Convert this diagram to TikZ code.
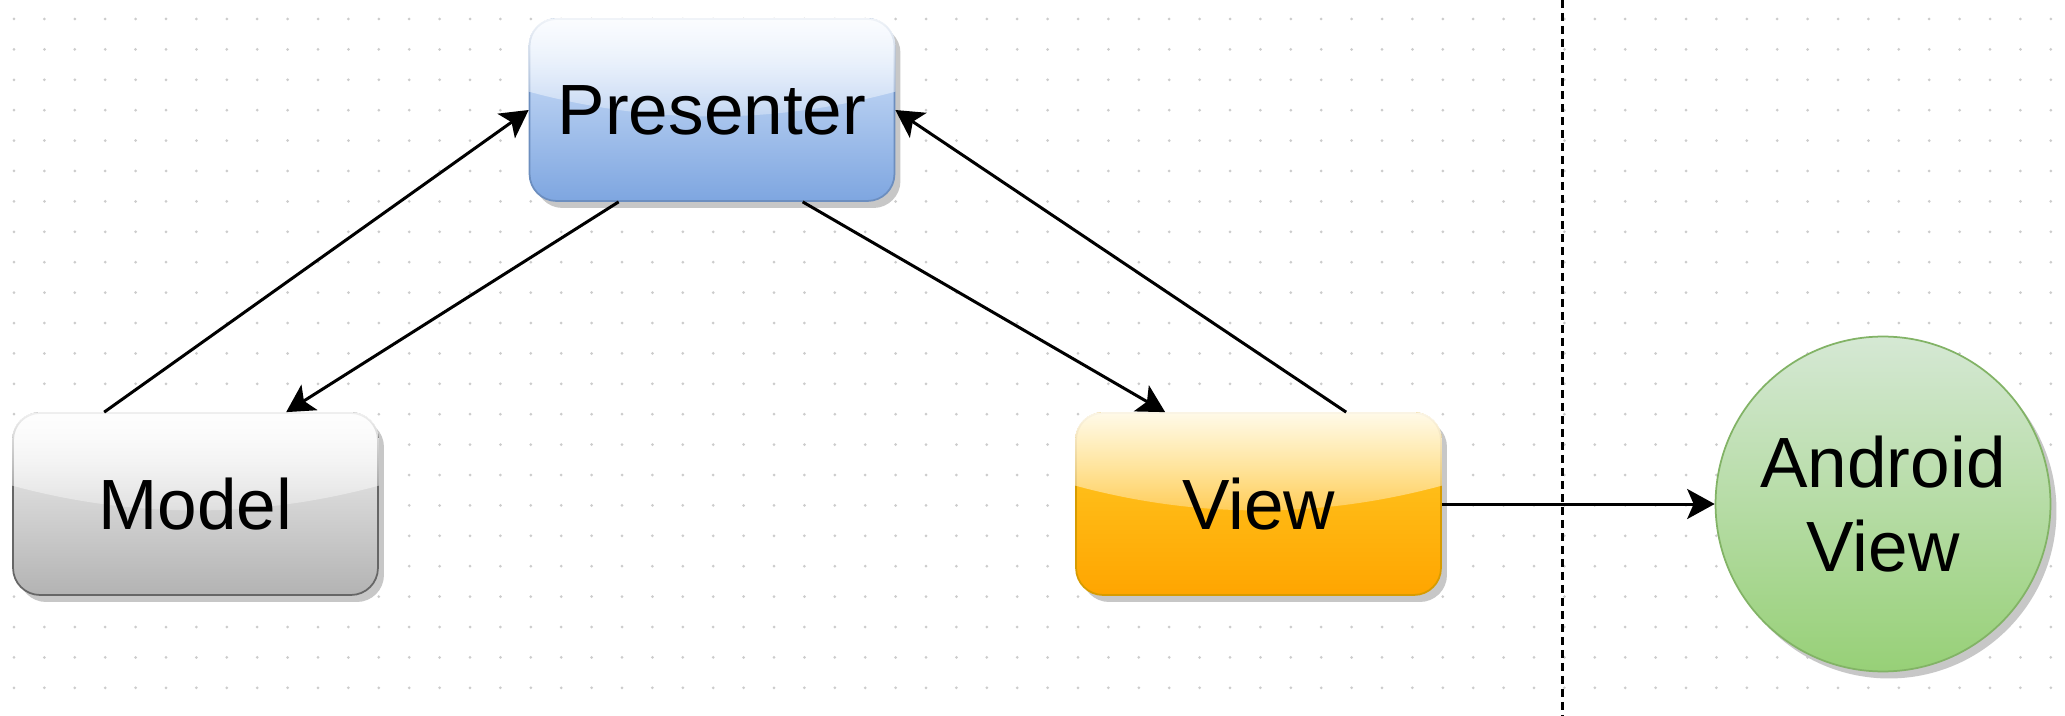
\documentclass[tikz,border=0pt]{standalone}
\usepackage{fontspec}
\setmainfont{Liberation Sans}
\usetikzlibrary{arrows.meta,calc,shadows,fadings}
\definecolor{presFill}{HTML}{DAE8FC}
\definecolor{presGrad}{HTML}{7EA6E0}
\definecolor{presStroke}{HTML}{6C8EBF}
\definecolor{modFill}{HTML}{F5F5F5}
\definecolor{modGrad}{HTML}{B3B3B3}
\definecolor{modStroke}{HTML}{666666}
\definecolor{viewFill}{HTML}{FFCD28}
\definecolor{viewGrad}{HTML}{FFA500}
\definecolor{viewStroke}{HTML}{D79B00}
\definecolor{andFill}{HTML}{D5E8D4}
\definecolor{andGrad}{HTML}{97D077}
\definecolor{andStroke}{HTML}{82B366}
\definecolor{gridDot}{HTML}{CCCCCC}
\tikzfading[name=glassfade, top color=transparent!10, bottom color=transparent!75]
\newcommand\glassover[1]{%
  \begin{scope}
    \clip[rounded corners=0.54cm] (#1.south west) rectangle (#1.north east);
    \fill[white, path fading=glassfade]
      (#1.north west) -- (#1.north east)
      -- ($(#1.north east)!0.4!(#1.south east)$)
      .. controls ($($(#1.north east)!0.58!(#1.south east)$)!0.333!($(#1.north west)!0.58!(#1.south west)$)$)
         and ($($(#1.north east)!0.58!(#1.south east)$)!0.667!($(#1.north west)!0.58!(#1.south west)$)$)
      .. ($(#1.north west)!0.4!(#1.south west)$) -- cycle;
  \end{scope}}
\tikzset{
  box/.style={rectangle, rounded corners=0.54cm, minimum width=7.3cm, minimum height=3.64cm,
    line width=0.035cm, font=\fontsize{40.5}{47.8}\selectfont, inner sep=0pt,
    drop shadow={shadow xshift=0.12cm, shadow yshift=-0.14cm, fill=black!22, opacity=1}},
  roundnode/.style={circle, minimum size=6.7cm, line width=0.035cm, inner sep=0pt,
    font=\fontsize{40.5}{47.8}\selectfont, align=center,
    drop shadow={shadow xshift=0.12cm, shadow yshift=-0.14cm, fill=black!22, opacity=1}},
  conn/.style={line width=0.06cm, -{Stealth[length=0.55cm,width=0.6cm,inset=0.13cm]}},
  divider/.style={line width=0.06cm, dash pattern=on 0.16cm off 0.1cm},
  labeltext/.style={font=\fontsize{40.5}{47.8}\selectfont},
}
\begin{document}
\begin{tikzpicture}[x=0.02cm,y=-0.02cm]
\useasboundingbox (0,0) rectangle (2065,716);
\fill[white] (0,0) rectangle (2065,716);
% dotted grid
\foreach \i in {0,...,67}{
  \foreach \j in {0,...,22}{
    \fill[gridDot] ({14+30.4*\i},{19+30.4*\j}) circle[radius=0.03cm];
  }
}
% divider
\draw[divider] (1562,0) -- (1562,716);
% nodes
\node[box, draw=presStroke, top color=presFill, bottom color=presGrad] (presenter) at (712,110) {};
\glassover{presenter}
\node[labeltext] at (presenter) (presenterlabel) {Presenter};
\node[box, draw=modStroke, top color=modFill, bottom color=modGrad] (model) at (195.5,504) {};
\glassover{model}
\node[labeltext] at (model) (modellabel) {Model};
\node[box, draw=viewStroke, top color=viewFill, bottom color=viewGrad] (view) at (1258.5,504) {};
\glassover{view}
\node[labeltext] at (view) (viewlabel) {View};
\node[roundnode, draw=andStroke, top color=andFill, bottom color=andGrad] (android) at (1883,504) {Android\\View};
% connectors
\draw[conn] ($(model.north west)+(92,0)$) -- (presenter.west);
\draw[conn] ($(presenter.south west)+(90,0)$) -- ($(model.north west)+(274,0)$);
\draw[conn] ($(presenter.south west)+(274,0)$) -- ($(view.north west)+(90,0)$);
\draw[conn] ($(view.north west)+(271,0)$) -- (presenter.east);
\draw[conn] (view.east) -- (android.west);
\end{tikzpicture}
\end{document}
